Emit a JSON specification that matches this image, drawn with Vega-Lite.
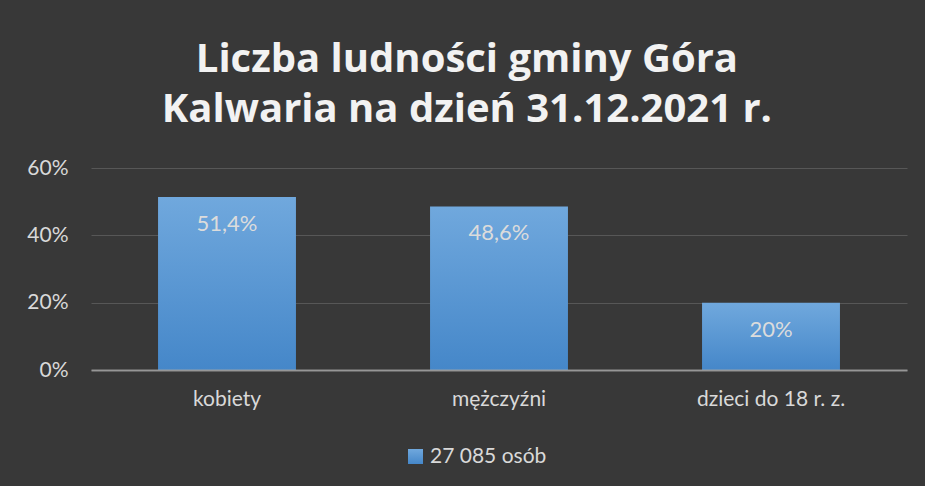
{
  "$schema": "https://vega.github.io/schema/vega-lite/v6.json",
  "width": 816,
  "height": 202,
  "autosize": {"type": "none"},
  "padding": {"left": 91, "top": 168, "right": 18, "bottom": 116},
  "background": "#383838",
  "config": {
    "locale": {"number": {"decimal": ",", "thousands": " ", "grouping": [3], "currency": ["", " zł"]}},
    "view": {"stroke": null},
    "font": "Lato"
  },
  "title": {
    "text": ["Liczba ludności gminy Góra", "Kalwaria na dzień 31.12.2021 r."],
    "fontSize": 40,
    "font": "Open Sans",
    "fontWeight": "bold",
    "color": "#f2f2f2",
    "lineHeight": 50,
    "offset": 27,
    "anchor": "middle",
    "frame": "bounds"
  },
  "data": {
    "values": [
      {"kategoria": "kobiety", "udzial": 0.514, "seria": "27 085 osób"},
      {"kategoria": "mężczyźni", "udzial": 0.486, "seria": "27 085 osób"},
      {"kategoria": "dzieci do 18 r. z.", "udzial": 0.2, "seria": "27 085 osób"}
    ]
  },
  "encoding": {
    "x": {
      "field": "kategoria",
      "type": "nominal",
      "sort": null,
      "scale": {"paddingInner": 0.493, "paddingOuter": 0.2465},
      "axis": {
        "title": null,
        "labelAngle": 0,
        "ticks": false,
        "domain": true,
        "domainColor": "#a6a6a6",
        "domainWidth": 2,
        "domainOpacity": 0.8,
        "labelFontSize": 21,
        "labelColor": "#d9d9d9",
        "labelPadding": 18,
        "zindex": 1
      }
    },
    "y": {
      "field": "udzial",
      "type": "quantitative",
      "scale": {"domain": [0, 0.6]},
      "axis": {
        "title": null,
        "values": [0, 0.2, 0.4, 0.6],
        "format": ".0%",
        "domain": false,
        "ticks": false,
        "grid": true,
        "gridColor": "#575757",
        "gridWidth": 1,
        "labelFontSize": 21,
        "labelColor": "#d9d9d9",
        "labelPadding": 23
      }
    }
  },
  "layer": [
    {
      "mark": {
        "type": "bar",
        "strokeWidth": 0,
        "fill": {
          "gradient": "linear",
          "x1": 0, "y1": 0, "x2": 0, "y2": 1,
          "stops": [
            {"offset": 0, "color": "#70a8dd"},
            {"offset": 1, "color": "#4587c9"}
          ]
        }
      },
      "encoding": {
        "stroke": {
          "field": "seria",
          "type": "nominal",
          "scale": {"range": ["#5b9bd5"]},
          "legend": {
            "title": null,
            "orient": "none",
            "legendX": 314,
            "legendY": 278,
            "symbolType": "square",
            "symbolSize": 225,
            "symbolFillColor": "#5b9bd5",
            "symbolStrokeWidth": 0,
            "labelFontSize": 21,
            "labelColor": "#d9d9d9",
            "labelOffset": 4
          }
        }
      }
    },
    {
      "mark": {"type": "text", "baseline": "top", "dy": 17, "fontSize": 22, "color": "#dcdcdc"},
      "encoding": {
        "text": {"field": "udzial", "type": "quantitative", "format": ".1~%"}
      }
    }
  ]
}
